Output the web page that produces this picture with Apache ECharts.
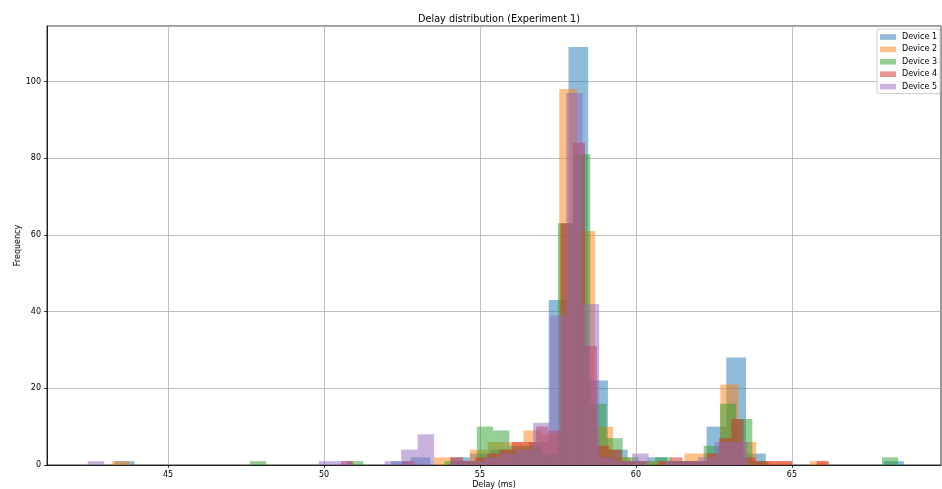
<!DOCTYPE html>
<html>
<head>
<meta charset="utf-8">
<script src="https://cdn.jsdelivr.net/npm/echarts@6/dist/echarts.min.js"></script>
<style>
  html, body { margin: 0; padding: 0; background: #fff; }
  #chart { width: 942px; height: 489px; }
</style>
</head>
<body>
<div id="chart"></div>
<script>
// Per-device histogram: 40 equal bins spanning each device's own [low, high] delay range.
const deviceNames = ['Device 1', 'Device 2', 'Device 3', 'Device 4', 'Device 5'];
const deviceColors = [
  'rgba(31,119,180,0.5)',
  'rgba(255,127,14,0.5)',
  'rgba(44,160,44,0.5)',
  'rgba(214,39,40,0.5)',
  'rgba(148,103,189,0.5)'
];
const rangeLow  = [43.29, 43.196, 47.628, 50.545, 42.426];
const rangeHigh = [68.59, 66.15, 68.407, 66.186, 63.58];
const binsPerDevice = 40;

const countsDevice1 = [1,0,0,0,0,0,0,0,0,0, 0,0,0,0,1,2,0,2,3,4, 4,6,43,109,22,4,1,2,1,1, 10,28,3,0,0,0,0,0,0,1];
const countsDevice2 = [1,0,0,0,0,0,0,0,0,0, 0,0,0,0,0,0,0,0,2,1, 4,6,6,9,8,98,61,10,2,1, 1,1,3,3,21,6,1,1,0,1];
const countsDevice3 = [1,0,0,0,0,0,1,0,0,0, 0,0,1,1,10,9,5,5,3,63, 81,16,7,2,1,2,1,1,5,16, 12,1,0,0,0,0,0,0,0,2];
const countsDevice4 = [1,0,0,0,0,1,0,0,0,2, 1,2,3,4,6,6,10,9,63,84, 31,5,4,1,1,0,1,2,1,1, 3,7,12,2,1,1,1,0,0,1];
const countsDevice5 = [1,0,0,0,0,0,0,0,0,0, 0,0,0,0,1,1,0,0,1,4, 8,0,1,1,2,3,4,11,39,97, 42,2,1,3,0,1,1,2,6,6];
const deviceCounts = [countsDevice1, countsDevice2, countsDevice3, countsDevice4, countsDevice5];

const xTickValues = [45, 50, 55, 60, 65];
const xRange = [41.12, 69.78];
const yRange = [0, 114.45];

// [binStart, binEnd, count] rows for one device
function binRows(d) {
  const lo = rangeLow[d], hi = rangeHigh[d];
  const w = (hi - lo) / binsPerDevice;
  const rows = [];
  deviceCounts[d].forEach((c, k) => {
    if (c > 0) rows.push([lo + k * w, lo + (k + 1) * w, c]);
  });
  return rows;
}

function renderBin(params, api) {
  const top = api.coord([api.value(0), api.value(2)]);
  const base = api.coord([api.value(1), 0]);
  return {
    type: 'rect',
    shape: { x: top[0], y: top[1], width: base[0] - top[0], height: base[1] - top[1] },
    style: { fill: api.visual('color') }
  };
}

const font = 'DejaVu Sans';
const chart = echarts.init(document.getElementById('chart'), null, { renderer: 'canvas' });

chart.setOption({
  animation: false,
  backgroundColor: '#fff',
  title: {
    text: 'Delay distribution (Experiment 1)',
    left: 494, top: 9, textAlign: 'center',
    textStyle: { fontFamily: font, fontSize: 9.7, fontWeight: 'normal', color: '#000' }
  },
  legend: {
    orient: 'vertical',
    right: 2, top: 29,
    padding: [3, 3, 2, 3],
    itemWidth: 16, itemHeight: 5.6, itemGap: 2.4,
    icon: 'rect',
    backgroundColor: 'rgba(255,255,255,0.8)',
    borderColor: '#cccccc', borderWidth: 1, borderRadius: 2,
    textStyle: { fontFamily: font, fontSize: 8, color: '#000', lineHeight: 10, padding: [0, 0, 0, 1] },
    data: deviceNames
  },
  grid: {
    left: 47, right: 1, top: 26, bottom: 24,
    outerBoundsMode: 'none', containLabel: false,
    show: true, borderColor: '#000', borderWidth: 0.8, backgroundColor: 'transparent'
  },
  xAxis: {
    type: 'value', min: xRange[0], max: xRange[1],
    name: 'Delay (ms)', nameLocation: 'middle', nameGap: 16, nameMoveOverlap: false,
    nameTextStyle: { fontFamily: font, fontSize: 8, color: '#000' },
    axisLine: { show: true, onZero: false, lineStyle: { color: '#000', width: 0.8 } },
    axisTick: { show: true, length: 2.8, customValues: xTickValues, lineStyle: { color: '#000', width: 0.8 } },
    axisLabel: { customValues: xTickValues, margin: 6, fontFamily: font, fontSize: 8, color: '#000' },
    splitLine: { show: true, lineStyle: { color: '#b0b0b0', width: 0.8 } }
  },
  yAxis: {
    type: 'value', min: yRange[0], max: yRange[1], interval: 20,
    name: 'Frequency', nameLocation: 'middle', nameGap: 25, nameMoveOverlap: false,
    nameTextStyle: { fontFamily: font, fontSize: 8, color: '#000' },
    axisLine: { show: true, lineStyle: { color: '#000', width: 0.8 } },
    axisTick: { show: true, length: 2.8, lineStyle: { color: '#000', width: 0.8 } },
    axisLabel: { margin: 6, fontFamily: font, fontSize: 8, color: '#000', showMaxLabel: false },
    splitLine: { show: true, lineStyle: { color: '#b0b0b0', width: 0.8 } }
  },
  series: deviceNames.map((name, d) => ({
    name: name,
    type: 'custom',
    renderItem: renderBin,
    encode: { x: [0, 1], y: 2 },
    itemStyle: { color: deviceColors[d] },
    data: binRows(d)
  }))
});
</script>
</body>
</html>
